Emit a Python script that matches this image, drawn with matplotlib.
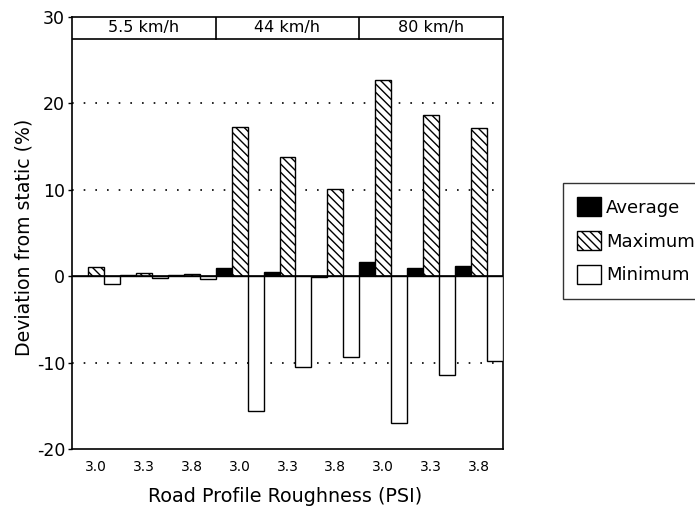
import matplotlib
matplotlib.use("Agg")
import matplotlib.pyplot as plt
import numpy as np

# road roughness (PSI) for each group, grouped by speed
speeds = ["5.5 km/h", "44 km/h", "80 km/h"]
psi_labels = ["3.0", "3.3", "3.8", "3.0", "3.3", "3.8", "3.0", "3.3", "3.8"]

# deviation from static load (%)
average = [0.0, 0.1, 0.1, 1.0, 0.5, -0.1, 1.7, 0.9, 1.2]
maximum = [1.1, 0.4, 0.2, 17.3, 13.8, 10.1, 22.7, 18.7, 17.1]
minimum = [-0.9, -0.2, -0.3, -15.6, -10.5, -9.4, -17.0, -11.4, -9.8]

plt.rcParams["font.family"] = "DejaVu Sans"
plt.rcParams["axes.unicode_minus"] = False
plt.rcParams["hatch.linewidth"] = 1.0

fig = plt.figure(figsize=(6.95, 5.09), dpi=100)
ax = fig.add_axes([72 / 695, 1 - 449 / 509, 431 / 695, 432 / 509])

x = np.arange(len(psi_labels))
w = 1 / 3
b1 = ax.bar(x + w / 2, average, w, color="black", edgecolor="black", lw=1.0, zorder=3,
            label="Average")
b2 = ax.bar(x + 1.5 * w, maximum, w, color="white", edgecolor="black", lw=1.0,
            hatch="\\\\\\\\", zorder=3, label="Maximum")
b3 = ax.bar(x + 2.5 * w, minimum, w, color="white", edgecolor="black", lw=1.0, zorder=3,
            label="Minimum")

# dotted grid + solid zero line
for yv in [20, 10, -10]:
    ax.axhline(yv, color="black", lw=1.2, ls=(0, (1, 6)), zorder=1)
ax.axhline(0, color="black", lw=1.2, zorder=4)

# speed strip on top
ax.axhline(27.5, color="black", lw=1.2, zorder=4)
for xs in [3, 6]:
    ax.plot([xs, xs], [27.5, 30], color="black", lw=1.2, zorder=4)
for i, s in enumerate(speeds):
    ax.text(3 * i + 1.5, 28.75, s, ha="center", va="center", fontsize=11.5)

ax.set_xlim(0, 9)
ax.set_ylim(-20, 30)
ax.set_yticks([-20, -10, 0, 10, 20, 30])
ax.set_xticks(x + 0.5)
ax.set_xticklabels(psi_labels, fontsize=10)
ax.tick_params(axis="x", length=0, pad=8)
ax.tick_params(axis="y", labelsize=12.5, length=3, width=1, pad=2)
for sp in ax.spines.values():
    sp.set_linewidth(1.2)

ax.set_xlabel("Road Profile Roughness (PSI)", fontsize=13.8, va="center")
ax.xaxis.set_label_coords((285 - 72) / 431, -(497 - 449) / 432)
ax.set_ylabel("Deviation from static (%)", fontsize=13.6, va="center")
ax.yaxis.set_label_coords(-(72 - 24) / 431, (449 - 237) / 432)

leg = fig.legend(handles=[b1, b2, b3], loc="upper left",
                 bbox_to_anchor=(563 / 695, 1 - 183 / 509),
                 fontsize=13, frameon=True, fancybox=False, edgecolor="black",
                 handlelength=1.3, handleheight=1.2, handletextpad=0.3,
                 labelspacing=0.8, borderpad=0.8, borderaxespad=0)
leg.get_frame().set_linewidth(1.0)

fig.savefig("out.png", dpi=100)
